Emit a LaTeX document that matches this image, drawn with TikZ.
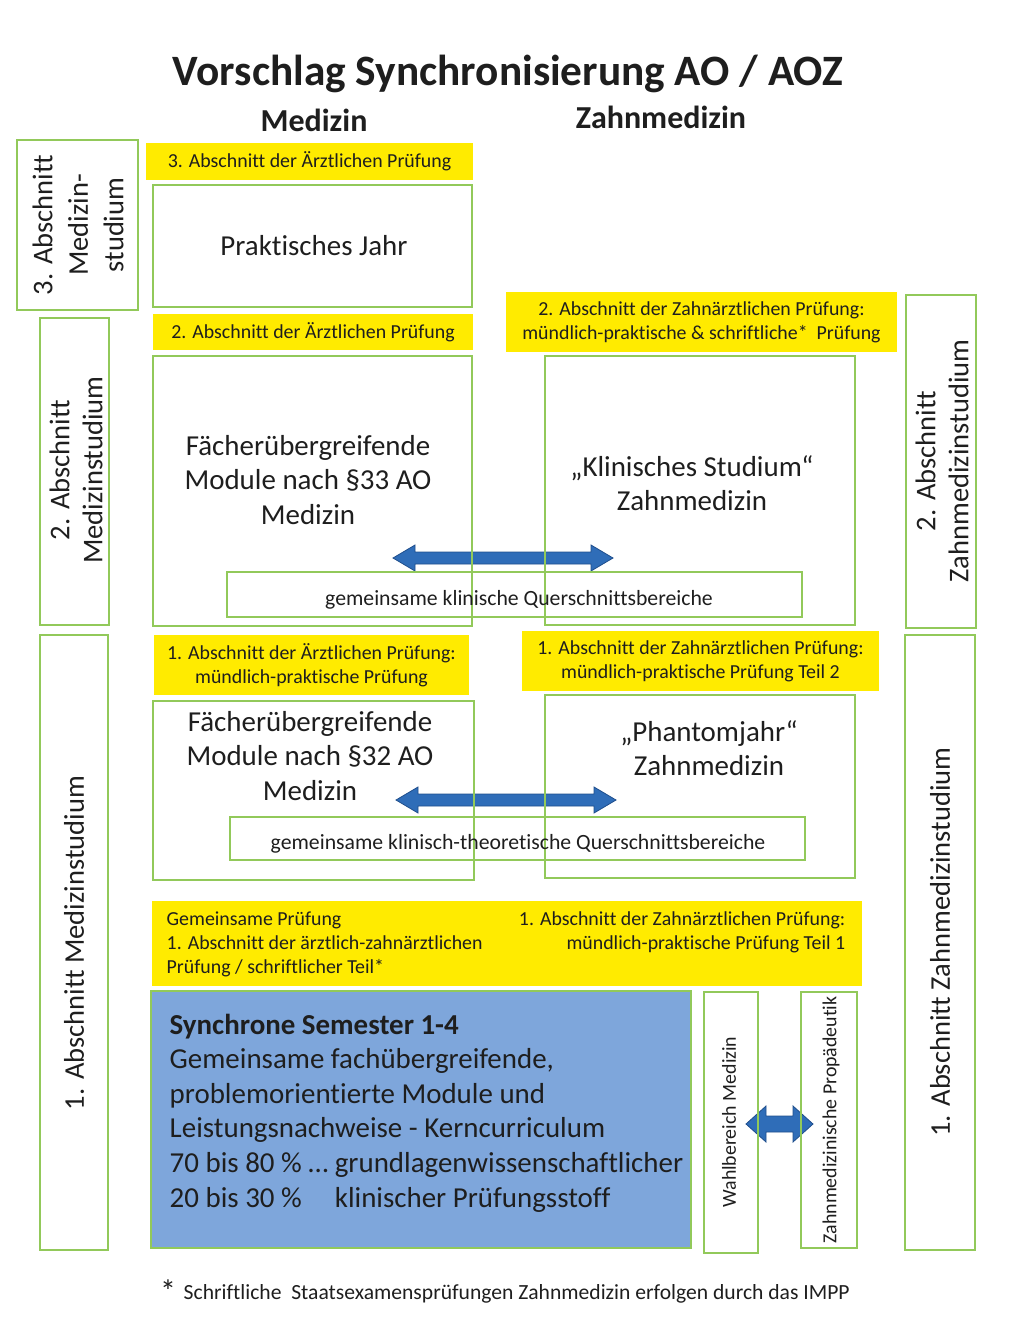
\documentclass[tikz,border=0pt]{standalone}
\usepackage{fontspec}
\setmainfont{Carlito}[Ligatures=NoCommon]
\usetikzlibrary{positioning}
\definecolor{boxgreen}{HTML}{92C95A}
\definecolor{labelyellow}{HTML}{FFEB00}
\definecolor{semblue}{HTML}{7EA6DB}
\definecolor{arrowblue}{HTML}{2F6DB8}
\definecolor{arrowedge}{HTML}{1F4E8C}
\definecolor{ink}{HTML}{1E1E1E}
% box from corner (x1,y1) to corner (x2,y2), pixel units
\newcommand{\area}[6][greenbox]{\node[#1,minimum width={(#5-#3)*0.75pt},
  minimum height={(#6-#4)*0.75pt}] (#2) at ({(#3+#5)/2},{(#4+#6)/2}) {};}
% double arrow: x1, x2, y, half shaft, half head, head length
\newcommand{\dblarrow}[6]{\filldraw[fill=arrowblue,draw=arrowedge,line width=.6pt]
  (#1,#3) -- (#1+#6,#3-#5) -- (#1+#6,#3-#4) -- (#2-#6,#3-#4) -- (#2-#6,#3-#5)
  -- (#2,#3) -- (#2-#6,#3+#5) -- (#2-#6,#3+#4) -- (#1+#6,#3+#4) -- (#1+#6,#3+#5) -- cycle;}
\tikzset{
  greenbox/.style={rectangle,draw=boxgreen,line width=1.5pt,inner sep=0pt,outer sep=0pt},
  bluebox/.style={greenbox,fill=semblue},
  yellowbar/.style={rectangle,fill=labelyellow,inner sep=0pt,outer sep=0pt},
  labeltext/.style={text=ink,align=center,font=\fontsize{14.9}{18}\selectfont},
  boxtext/.style={text=ink,align=center,font=\fontsize{21.7}{25.9}\selectfont},
  sidetext/.style={text=ink,align=center,rotate=90,font=\fontsize{21.4}{24.8}\selectfont},
  smalltext/.style={text=ink,align=center,font=\fontsize{16.3}{18}\selectfont},
  thintext/.style={text=ink,rotate=90,font=\fontsize{14.9}{16}\selectfont},
}
\begin{document}
\begin{tikzpicture}[x=0.75pt,y=-0.75pt]
  \useasboundingbox (0,0) rectangle (1024,1318);
  \node[text=ink,font=\fontsize{32.5}{34}\selectfont\bfseries] (title) at (508,74)
  {Vorschlag Synchronisierung AO / AOZ};
  \node[text=ink,font=\fontsize{24}{26}\selectfont\bfseries] (med) at (314,120) {Medizin};
  \node[text=ink,font=\fontsize{24}{26}\selectfont\bfseries] (zmed) at (661,117) {Zahnmedizin};
  % arrows first, the box lines run over them
  \dblarrow{393}{613}{558}{6}{13}{22}
  \dblarrow{396}{616}{800}{6}{13}{22}
  \dblarrow{746}{813}{1124}{8}{18}{20}
  % sections at the sides
  \area{sec3m}{17}{140}{138}{310} \area{sec2m}{40}{318}{109}{625}
  \area{sec1m}{40}{635}{108}{1250} \area{sec2z}{906}{295}{976}{628}
  \area{sec1z}{905}{635}{975}{1250}
  \node[sidetext,font=\fontsize{21.4}{26.6}\selectfont] at (78,225)
  {3. Abschnitt\\Medizin-\\studium};
  \node[sidetext] at (76,470) {2. Abschnitt\\Medizinstudium};
  \node[sidetext] at (74,943) {1. Abschnitt Medizinstudium};
  \node[sidetext] at (942,461) {2. Abschnitt\\Zahnmedizinstudium};
  \node[sidetext] at (940,942) {1. Abschnitt Zahnmedizinstudium};
  % exams
  \area[yellowbar]{ex3}{146}{143}{473}{180} \node[labeltext] at (ex3) {3. Abschnitt der Ärztlichen Prüfung};
  \area[yellowbar]{ex2}{153}{314}{473}{350} \node[labeltext] at (ex2) {2. Abschnitt der Ärztlichen Prüfung};
  \area[yellowbar]{ex2z}{506}{292}{897}{352} \node[labeltext] at (ex2z)
  {2. Abschnitt der Zahnärztlichen Prüfung:\\mündlich-praktische \& schriftliche*\ \ Prüfung};
  \area[yellowbar]{ex1}{154}{635}{469}{695} \node[labeltext] at (ex1)
  {1. Abschnitt der Ärztlichen Prüfung:\\mündlich-praktische Prüfung};
  \area[yellowbar]{ex1z}{522}{631}{879}{691} \node[labeltext] at (ex1z)
  {1. Abschnitt der Zahnärztlichen Prüfung:\\mündlich-praktische Prüfung Teil 2};
  \area[yellowbar]{ex0}{152}{901}{862}{986}
  \node[labeltext,align=left,anchor=west] at (162,944)
  {Gemeinsame Prüfung\\1. Abschnitt der ärztlich-zahnärztlichen\\Prüfung / schriftlicher Teil*};
  \node[labeltext,align=right,anchor=east] at (850,932)
  {1. Abschnitt der Zahnärztlichen Prüfung:\\mündlich-praktische Prüfung Teil 1};
  % study blocks
  \area{pj}{153}{185}{472}{307} \node[boxtext] at (314,246) {Praktisches Jahr};
  \area{mod33}{153}{356}{472}{626} \node[boxtext] at (308,480)
  {Fächerübergreifende\\Module nach §33 AO\\Medizin};
  \area{klin}{545}{356}{855}{625} \node[boxtext] at (692,483)
  {„Klinisches Studium“\\Zahnmedizin};
  \area{qs1}{227}{572}{802}{617} \node[smalltext] at (519,600)
  {gemeinsame klinische Querschnittsbereiche};
  \area{mod32}{153}{701}{474}{880} \node[boxtext] at (310,756)
  {Fächerübergreifende\\Module nach §32 AO\\Medizin};
  \area{phan}{545}{695}{855}{878} \node[boxtext] at (709,748)
  {„Phantomjahr“\\Zahnmedizin};
  \area{qs2}{230}{817}{805}{860} \node[smalltext] at (518,844)
  {gemeinsame klinisch-theoretische Querschnittsbereiche};
  % semesters 1-4
  \area[bluebox]{sync}{151}{991}{691}{1248}
  \node[boxtext,align=left,anchor=west] at (165,1113)
  {\textbf{Synchrone Semester 1-4}\\Gemeinsame fachübergreifende,\\problemorientierte Module und\\
   Leistungsnachweise - Kerncurriculum\\70 bis 80 \% … grundlagenwissenschaftlicher\\
   \rlap{20 bis 30 \%}\phantom{70 bis 80 \% … }klinischer Prüfungsstoff};
  \area{wahl}{704}{992}{758}{1253} \node[thintext] at (729,1122) {Wahlbereich Medizin};
  \area{prop}{801}{992}{857}{1248} \node[thintext] at (831,1120) {Zahnmedizinische Propädeutik};
  % footnote
  \node[text=ink,font=\fontsize{24}{24}\selectfont] (star) at (168,1291) {*};
  \node[text=ink,anchor=west,font=\fontsize{16.2}{18}\selectfont] (note) at (179,1294)
  {Schriftliche\ \ Staatsexamensprüfungen Zahnmedizin erfolgen durch das IMPP};
\end{tikzpicture}
\end{document}
